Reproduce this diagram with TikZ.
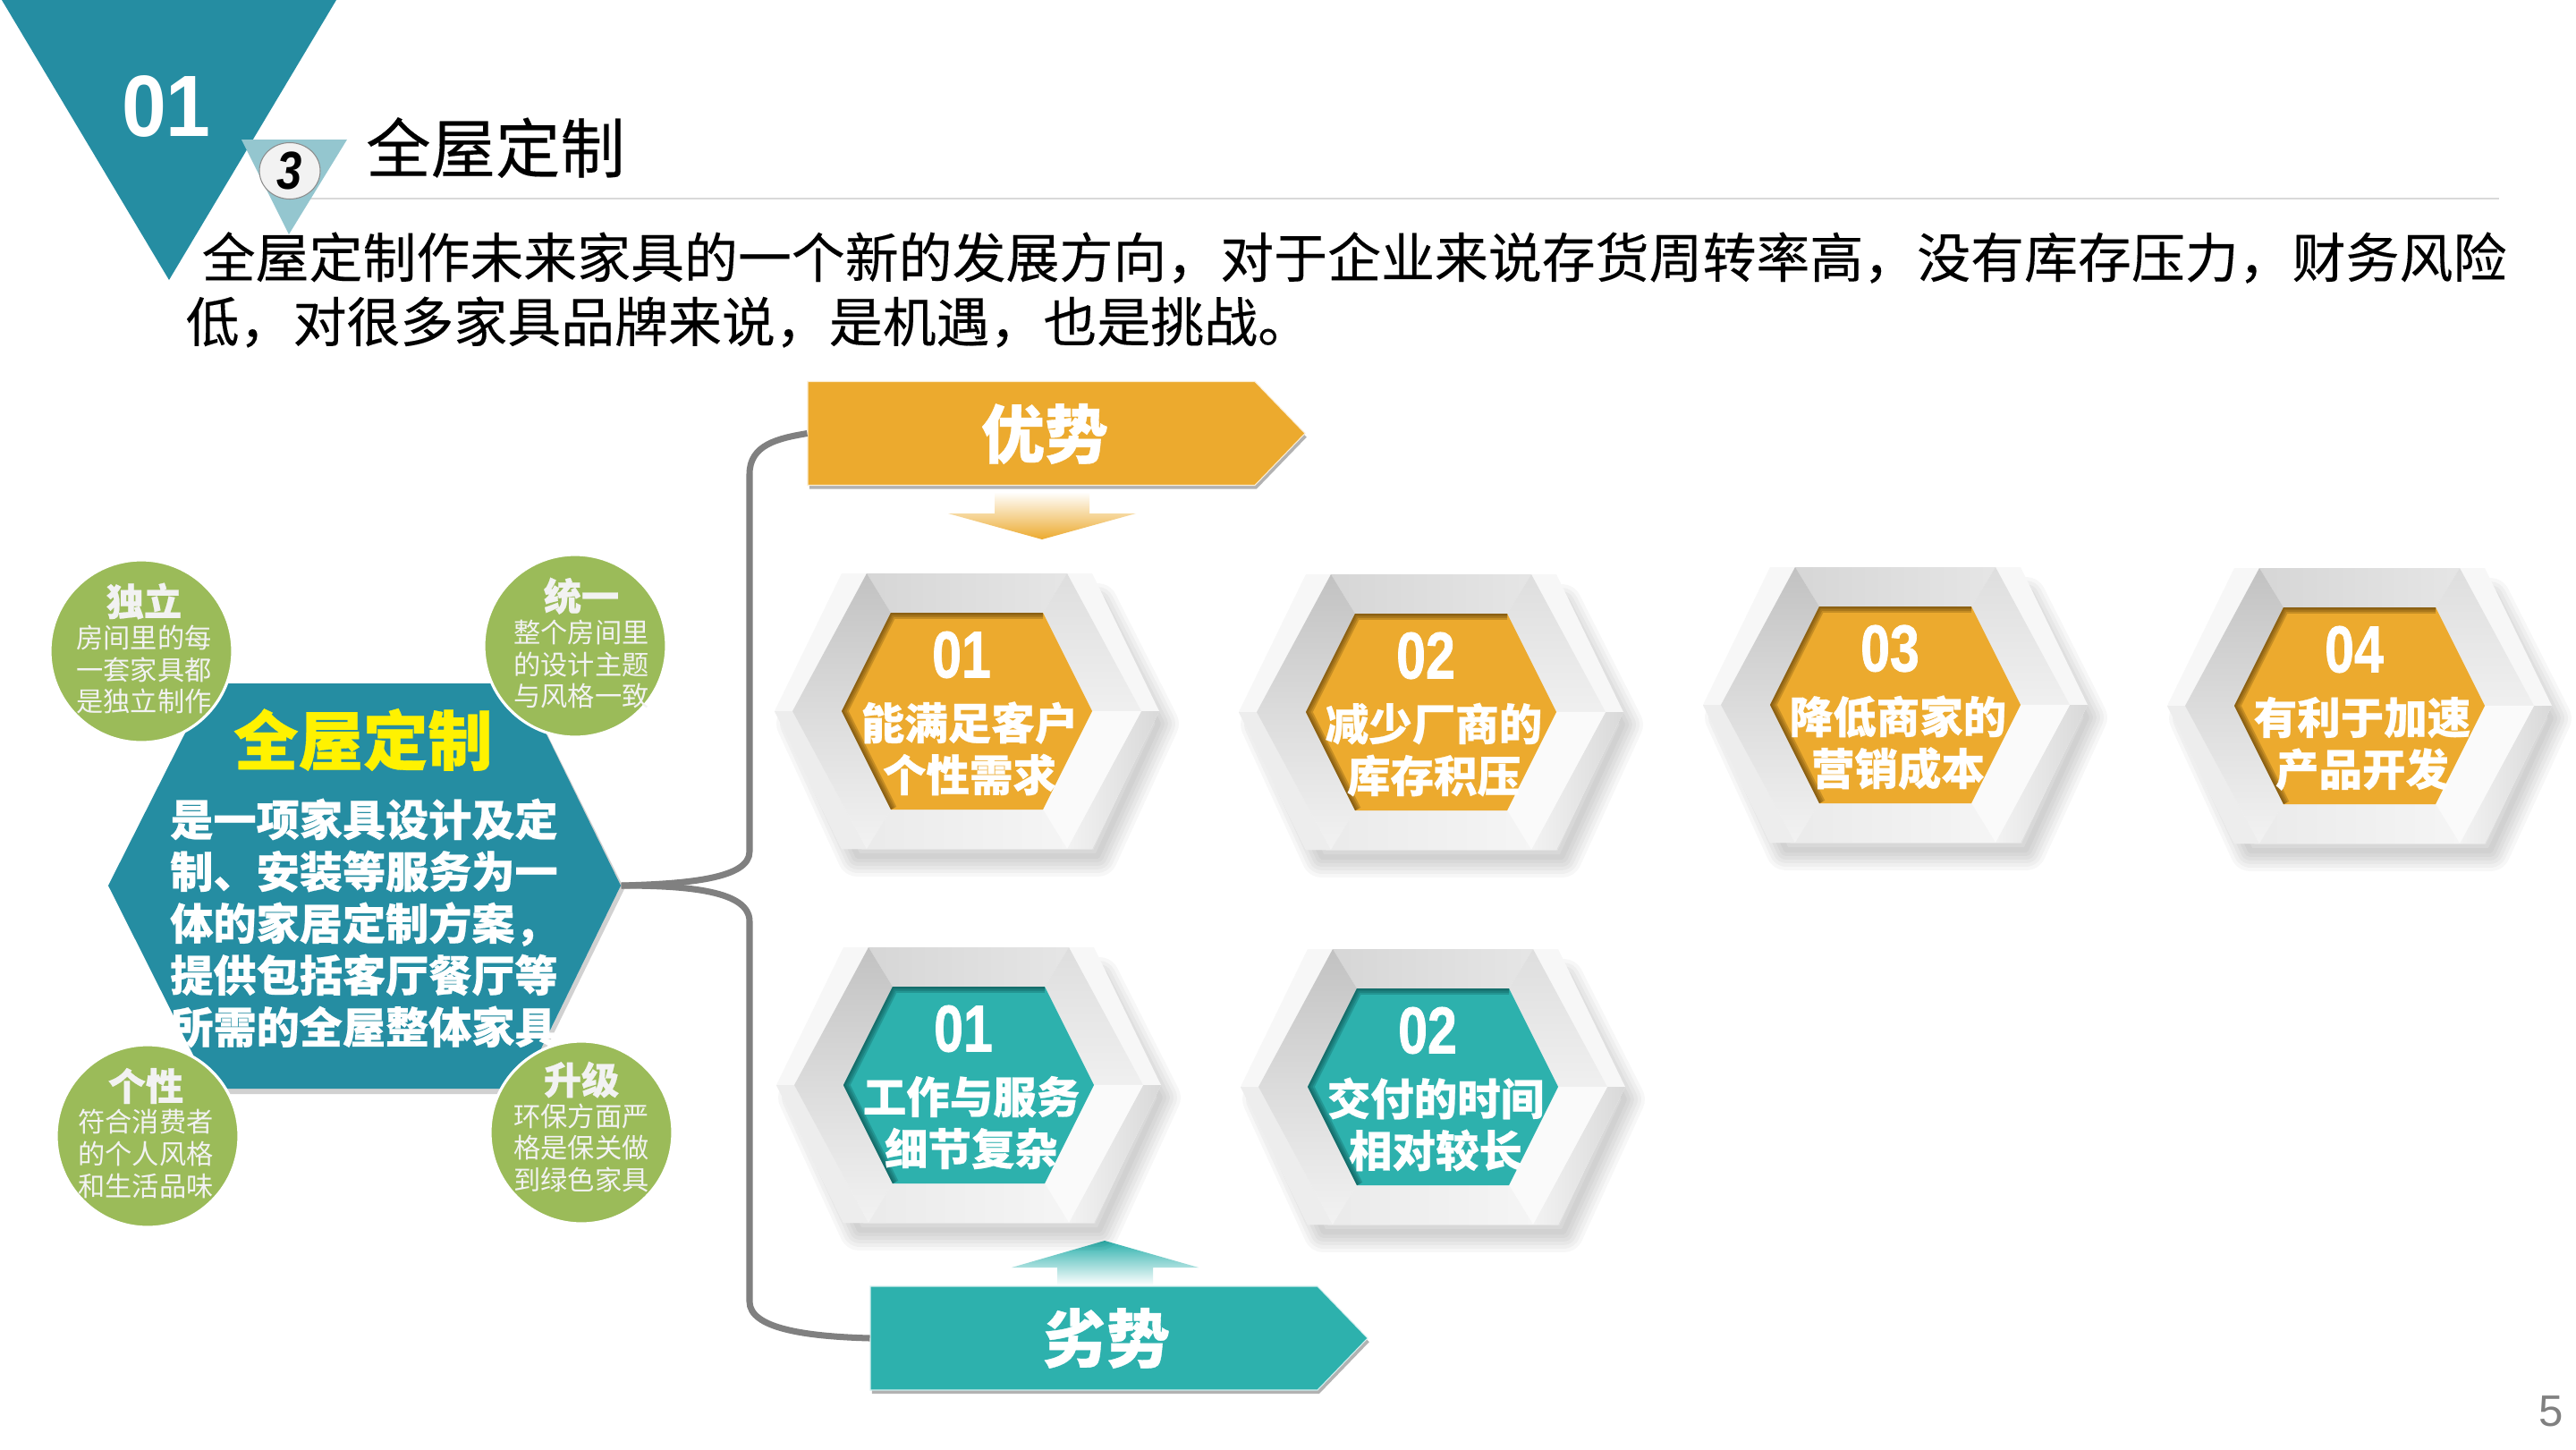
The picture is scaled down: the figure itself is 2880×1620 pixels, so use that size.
\documentclass[tikz,border=0pt]{standalone}
\usepackage{fontspec}
\usepackage{graphicx}
\setmainfont{Noto Sans CJK SC}[BoldFeatures={FakeBold=0.5}]
\newfontfamily\introfont[FakeBold=0.2]{Noto Sans CJK SC}
\newfontfamily\numfont{Liberation Sans}
\newfontfamily\numheavy[FakeBold=1.2]{Liberation Sans Bold}
\usetikzlibrary{shapes.geometric,shapes.symbols,shadows}

\definecolor{deepteal}{HTML}{258DA2}
\definecolor{paleteal}{HTML}{94C6CF}
\definecolor{leafgreen}{HTML}{9BBB59}
\definecolor{amber}{HTML}{ECAA2E}
\definecolor{amberdark}{HTML}{6E4A0C}
\definecolor{seateal}{HTML}{2DB1AD}
\definecolor{seadark}{HTML}{0F5A58}

\tikzset{
    bigtitle/.style={font=\introfont\fontsize{20.6}{24}\selectfont, text=black, inner sep=0},
    bodyline/.style={font=\introfont\fontsize{17.05}{20}\selectfont, text=black, anchor=west, inner sep=0},
    bighexbox/.style={minimum width=57.3mm, minimum height=45.3mm, inner sep=0},
    dotbox/.style={circle, minimum size=20.4mm, inner sep=0, fill=leafgreen, draw=white, line width=0.9pt},
    dottext/.style={align=center, inner sep=0, text=white!95!black, font=\fontsize{8.6}{10.2}\selectfont},
    bannerbox/.style={signal, signal to=east, signal pointer angle=92, minimum width=55.6mm, minimum height=11.6mm,
        inner sep=0, fill=#1, draw=white!80!#1, line width=0.3pt,
        drop shadow={shadow xshift=0.5pt, shadow yshift=-1.2pt, opacity=.3, fill=black}},
    bannertext/.style={inner sep=0, text=white, font=\fontsize{20.2}{24}\selectfont\bfseries},
    branchline/.style={draw=black!50, line width=2pt},
    cardtext/.style={inner sep=0, text=white, font=\fontsize{13.8}{16}\selectfont\bfseries},
    cardnum/.style={inner sep=0, text=white, font=\numheavy\fontsize{21}{24}\selectfont},
}

% #1 name, #2 x, #3 y, #4 face colour, #5 shade colour, #6 number, #7 and #8 the two lines
\newcommand{\hexcard}[8]{
    \begin{scope}[shift={(#2,#3)}]
        % soft shadow
        \foreach \w in {6,14,22,30,38,46}
            \draw[black, opacity=.03, line width=\w*0.2835pt, line join=round]
                (-190,14) -- (-122,-120) -- (146,-120) -- (214,14) -- (146,162) -- (-122,162) -- cycle;
        % outer rim
        \fill[white!97!black] (-215,0) -- (-140,-154) -- (140,-154) -- (215,0) -- (140,154) -- (-140,154) -- cycle;
        \fill[white!93!black] (-215,0) -- (-195,0) -- (-112,154) -- (-140,154) -- cycle;
        \shade[left color=white!95!black, right color=white!85!black] (195,0) -- (215,0) -- (140,154) -- (112,154) -- cycle;
        % bevel faces
        \shade[left color=white!84!black, right color=white!90!black] (-112,-154) -- (112,-154) -- (85,-110) -- (-85,-110) -- cycle;
        \shade[top color=white!76!black, bottom color=white!86!black] (-195,0) -- (-112,-154) -- (-85,-110) -- (-140,0) -- cycle;
        \shade[top color=white!87!black, bottom color=white!94!black] (112,-154) -- (195,0) -- (140,0) -- (85,-110) -- cycle;
        \shade[top color=white!86!black, bottom color=white!95!black] (-195,0) -- (-140,0) -- (-85,110) -- (-112,154) -- cycle;
        \fill[white!98!black] (140,0) -- (195,0) -- (112,154) -- (85,110) -- cycle;
        \shade[left color=white!92!black, right color=white!96!black] (-85,110) -- (85,110) -- (112,154) -- (-112,154) -- cycle;
        % face with its inner shade
        \fill[#4] (-140,0) -- (-85,-110) -- (85,-110) -- (140,0) -- (85,110) -- (-85,110) -- cycle;
        \begin{scope}
            \clip (-140,0) -- (-85,-110) -- (85,-110) -- (140,0) -- (85,110) -- (-85,110) -- cycle;
            \foreach \w in {3,6,10,14}
                \draw[#5, opacity=.3, line width=\w*0.2835pt] (-85,110) -- (-140,0) -- (-85,-110) -- (85,-110);
        \end{scope}
        \node[cardnum] (#1num) at (-6,-63) {\scalebox{0.8}[1]{#6}};
        \node[cardtext] (#1top) at (3,13) {#7};
        \node[cardtext] (#1low) at (3,71) {#8};
    \end{scope}
}

\begin{document}
\begin{tikzpicture}[x=0.1mm, y=-0.1mm]
    \useasboundingbox (0,0) rectangle (2880,1620);
    \fill[white] (0,0) rectangle (2880,1620);

    % Header triangles and title
    \draw[black!15, line width=0.7pt] (347,222) -- (2794,222);
    \fill[deepteal] (2,0) -- (376,0) -- (189,313) -- cycle;
    \fill[paleteal] (270,156) -- (388,156) -- (323,262) -- cycle;
    \node[inner sep=0, text=white, font=\numfont\fontsize{27.7}{30}\selectfont\bfseries] (sectionnum) at (186,119) {\scalebox{0.92}[1]{01}};
    \node[ellipse, minimum width=6.8mm, minimum height=6.3mm, inner sep=0, fill=black!5, draw=black!45, line width=0.3pt,
        font=\numfont\fontsize{17}{20}\selectfont\bfseries\itshape] (stepnum) at (324,191) {\scalebox{0.85}[1]{3}};
    \node[bigtitle] (pagetitle) at (554,165) {全屋定制};

    % Intro text
    \node[bodyline] (introone) at (225,288) {全屋定制作未来家具的一个新的发展方向，对于企业来说存货周转率高，没有库存压力，财务风险};
    \node[bodyline] (introtwo) at (207,360) {低，对很多家具品牌来说，是机遇，也是挑战。};

    % Centre hexagon
    \fill[black, opacity=.18] (124,994) -- (238,769) -- (586,769) -- (698,994) -- (586,1223) -- (238,1223) -- cycle;
    \fill[deepteal] (121,990) -- (235,764) -- (583,764) -- (694,990) -- (583,1217) -- (235,1217) -- cycle;
    \node[bighexbox] (bighex) at (407.5,990) {};
    \node[inner sep=0, text=yellow, font=\fontsize{20.6}{24}\selectfont\bfseries] (bighexhead) at (406,827) {全屋定制};
    \node[inner sep=0, text=white, align=left, font=\fontsize{13.7}{16.5}\selectfont\bfseries] (bighexbody) at (407,1032)
        {是一项家具设计及定\\制、安装等服务为一\\体的家居定制方案，\\提供包括客厅餐厅等\\所需的全屋整体家具};

    % Green circles
    \node[dotbox] (dotone) at (158,728) {};
    \node[dottext] (dotonetext) at (161,725) {{\fontsize{12}{12}\selectfont\bfseries 独立}\\房间里的每\\一套家具都\\是独立制作};
    \node[dotbox] (dottwo) at (643,722) {};
    \node[dottext] (dottwotext) at (650,719) {{\fontsize{12}{12}\selectfont\bfseries 统一}\\整个房间里\\的设计主题\\与风格一致};
    \node[dotbox] (dotthree) at (165,1270) {};
    \node[dottext] (dotthreetext) at (163,1267) {{\fontsize{12}{12}\selectfont\bfseries 个性}\\符合消费者\\的个人风格\\和生活品味};
    \node[dotbox] (dotfour) at (650,1266) {};
    \node[dottext] (dotfourtext) at (650,1260) {{\fontsize{12}{12}\selectfont\bfseries 升级}\\环保方面严\\格是保关做\\到绿色家具};

    % Upper banner
    \node[bannerbox=amber] (goodbanner) at (1153,484.5) {};
    \node[bannertext] (goodlabel) at (1168,485) {优势};
    \shade[top color=white, bottom color=amber] (1112,550) -- (1218,550) -- (1218,574) -- (1270,574)
        -- (1165,603) -- (1060,574) -- (1112,574) -- cycle;

    % Lower banner
    \node[bannerbox=seateal] (badbanner) at (1223,1496) {};
    \node[bannertext] (badlabel) at (1237,1496) {劣势};
    \shade[top color=seateal, bottom color=white] (1235,1387) -- (1340,1417) -- (1289,1417) -- (1289,1437)
        -- (1182,1437) -- (1182,1417) -- (1131,1417) -- cycle;

    % Branches from the centre hexagon to the banners
    \draw[branchline] (bighex.east) .. controls (770,988) and (838,982) .. (838,952) -- (838,530)
        .. controls (838,497) and (870,490) .. (goodbanner.west);
    \draw[branchline] (bighex.east) .. controls (770,990) and (838,996) .. (838,1030) -- (838,1455)
        .. controls (838,1485) and (900,1494) .. (badbanner.west);

    % Upper row of cards
    \hexcard{goodone}{1081}{795}{amber}{amberdark}{01}{能满足客户}{个性需求}
    \hexcard{goodtwo}{1600}{796}{amber}{amberdark}{02}{减少厂商的}{库存积压}
    \hexcard{goodthree}{2119}{788}{amber}{amberdark}{03}{降低商家的}{营销成本}
    \hexcard{goodfour}{2638}{789}{amber}{amberdark}{04}{有利于加速}{产品开发}

    % Lower row of cards
    \hexcard{badone}{1083}{1213}{seateal}{seadark}{01}{工作与服务}{细节复杂}
    \hexcard{badtwo}{1602}{1215}{seateal}{seadark}{02}{交付的时间}{相对较长}

    % Page number
    \node[inner sep=0, text=black!50, font=\numfont\fontsize{14}{16}\selectfont] (pagenum) at (2852,1578) {5};
\end{tikzpicture}
\end{document}
